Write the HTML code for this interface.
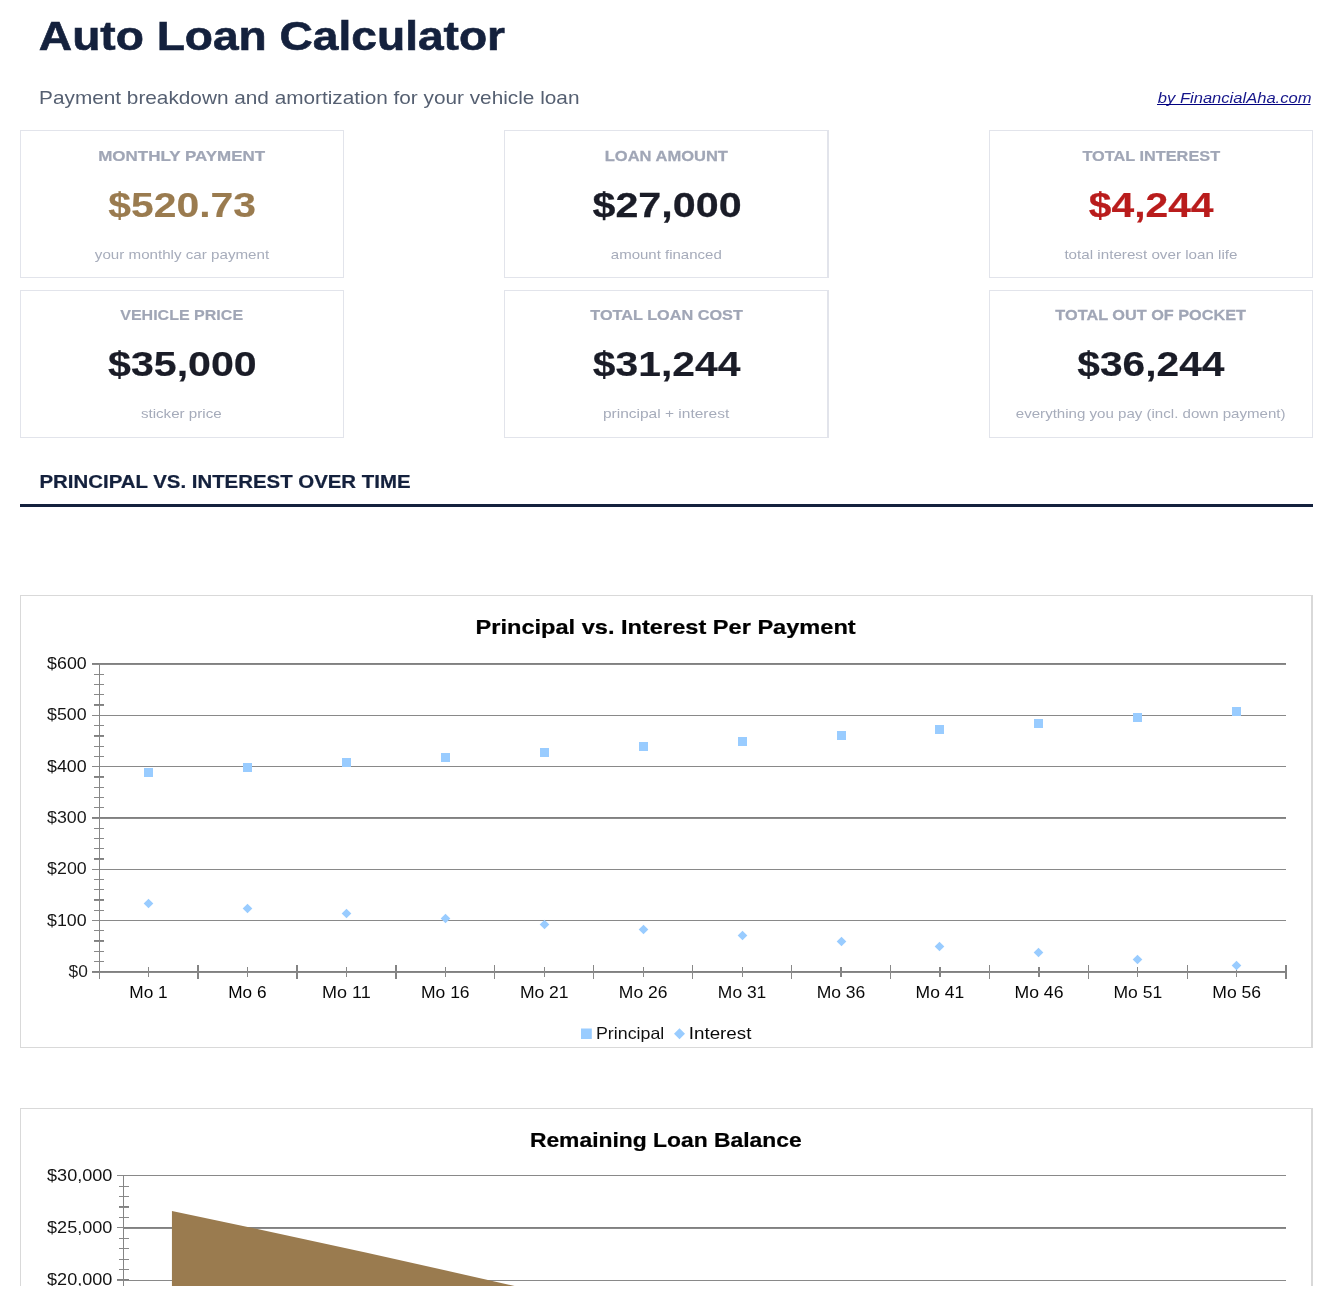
<!DOCTYPE html>
<html><head><meta charset="utf-8"><title>Auto Loan Calculator</title>
<style>
html,body{margin:0;padding:0;background:#fff;}
body{width:1333px;height:1306px;overflow:hidden;}
#clip{position:relative;width:1333px;height:1286px;overflow:hidden;}
svg{display:block;font-family:"Liberation Sans",sans-serif;will-change:transform;}
</style></head><body><div id="clip">
<svg width="1333" height="1306" viewBox="0 0 1333 1306">
<rect x="20" y="130" width="324" height="1" fill="#e2e4eb"/>
<rect x="20" y="277" width="324" height="1" fill="#e2e4eb"/>
<rect x="20" y="130" width="1" height="148" fill="#e2e4eb"/>
<rect x="343" y="130" width="1" height="148" fill="#e2e4eb"/>
<rect x="20" y="290" width="324" height="1" fill="#e2e4eb"/>
<rect x="20" y="437" width="324" height="1" fill="#e2e4eb"/>
<rect x="20" y="290" width="1" height="148" fill="#e2e4eb"/>
<rect x="343" y="290" width="1" height="148" fill="#e2e4eb"/>
<rect x="504" y="130" width="325" height="1" fill="#e2e4eb"/>
<rect x="504" y="277" width="325" height="1" fill="#e2e4eb"/>
<rect x="504" y="130" width="1" height="148" fill="#e2e4eb"/>
<rect x="827" y="130" width="1" height="148" fill="#e2e4eb"/>
<rect x="828" y="130" width="1" height="148" fill="#e2e4eb"/>
<rect x="504" y="290" width="325" height="1" fill="#e2e4eb"/>
<rect x="504" y="437" width="325" height="1" fill="#e2e4eb"/>
<rect x="504" y="290" width="1" height="148" fill="#e2e4eb"/>
<rect x="827" y="290" width="1" height="148" fill="#e2e4eb"/>
<rect x="828" y="290" width="1" height="148" fill="#e2e4eb"/>
<rect x="989" y="130" width="324" height="1" fill="#e2e4eb"/>
<rect x="989" y="277" width="324" height="1" fill="#e2e4eb"/>
<rect x="989" y="130" width="1" height="148" fill="#e2e4eb"/>
<rect x="1312" y="130" width="1" height="148" fill="#e2e4eb"/>
<rect x="989" y="290" width="324" height="1" fill="#e2e4eb"/>
<rect x="989" y="437" width="324" height="1" fill="#e2e4eb"/>
<rect x="989" y="290" width="1" height="148" fill="#e2e4eb"/>
<rect x="1312" y="290" width="1" height="148" fill="#e2e4eb"/>
<rect x="1157" y="104" width="153.5" height="1" fill="#000080"/>
<rect x="20" y="504" width="1293" height="3" fill="#14213d"/>
<rect x="20" y="595" width="1293" height="1" fill="#d9d9d9"/>
<rect x="20" y="1047" width="1293" height="1" fill="#d9d9d9"/>
<rect x="20" y="595" width="1" height="453" fill="#d9d9d9"/>
<rect x="1311" y="595" width="1" height="453" fill="#d9d9d9"/>
<rect x="1312" y="595" width="1" height="453" fill="#d9d9d9"/>
<rect x="20" y="1108" width="1293" height="1" fill="#d9d9d9"/>
<rect x="20" y="1700" width="1293" height="1" fill="#d9d9d9"/>
<rect x="20" y="1108" width="1" height="593" fill="#d9d9d9"/>
<rect x="1311" y="1108" width="1" height="593" fill="#d9d9d9"/>
<rect x="1312" y="1108" width="1" height="593" fill="#d9d9d9"/>
<rect x="92" y="971" width="1194" height="1" fill="#808080"/>
<rect x="92" y="972" width="1194" height="1" fill="#8a8a8a"/>
<rect x="92" y="920" width="1194" height="1" fill="#898989"/>
<rect x="92" y="869" width="1194" height="1" fill="#898989"/>
<rect x="92" y="817" width="1194" height="1" fill="#808080"/>
<rect x="92" y="818" width="1194" height="1" fill="#8a8a8a"/>
<rect x="92" y="766" width="1194" height="1" fill="#898989"/>
<rect x="92" y="715" width="1194" height="1" fill="#898989"/>
<rect x="92" y="663" width="1194" height="1" fill="#808080"/>
<rect x="92" y="664" width="1194" height="1" fill="#8a8a8a"/>
<rect x="99" y="663" width="1" height="316" fill="#868686"/>
<rect x="94" y="961" width="10" height="1" fill="#898989"/>
<rect x="94" y="951" width="10" height="1" fill="#898989"/>
<rect x="94" y="940" width="10" height="1" fill="#808080"/>
<rect x="94" y="941" width="10" height="1" fill="#8a8a8a"/>
<rect x="94" y="930" width="10" height="1" fill="#898989"/>
<rect x="94" y="910" width="10" height="1" fill="#898989"/>
<rect x="94" y="899" width="10" height="1" fill="#808080"/>
<rect x="94" y="900" width="10" height="1" fill="#8a8a8a"/>
<rect x="94" y="889" width="10" height="1" fill="#898989"/>
<rect x="94" y="879" width="10" height="1" fill="#898989"/>
<rect x="94" y="858" width="10" height="1" fill="#808080"/>
<rect x="94" y="859" width="10" height="1" fill="#8a8a8a"/>
<rect x="94" y="848" width="10" height="1" fill="#898989"/>
<rect x="94" y="838" width="10" height="1" fill="#898989"/>
<rect x="94" y="828" width="10" height="1" fill="#898989"/>
<rect x="94" y="807" width="10" height="1" fill="#898989"/>
<rect x="94" y="797" width="10" height="1" fill="#898989"/>
<rect x="94" y="787" width="10" height="1" fill="#898989"/>
<rect x="94" y="776" width="10" height="1" fill="#808080"/>
<rect x="94" y="777" width="10" height="1" fill="#8a8a8a"/>
<rect x="94" y="756" width="10" height="1" fill="#898989"/>
<rect x="94" y="746" width="10" height="1" fill="#898989"/>
<rect x="94" y="735" width="10" height="1" fill="#808080"/>
<rect x="94" y="736" width="10" height="1" fill="#8a8a8a"/>
<rect x="94" y="725" width="10" height="1" fill="#898989"/>
<rect x="94" y="704" width="10" height="1" fill="#808080"/>
<rect x="94" y="705" width="10" height="1" fill="#8a8a8a"/>
<rect x="94" y="694" width="10" height="1" fill="#898989"/>
<rect x="94" y="684" width="10" height="1" fill="#898989"/>
<rect x="94" y="674" width="10" height="1" fill="#898989"/>
<rect x="197" y="965" width="2" height="14" fill="#848484"/>
<rect x="296" y="965" width="2" height="14" fill="#848484"/>
<rect x="395" y="965" width="2" height="14" fill="#848484"/>
<rect x="494" y="965" width="1" height="14" fill="#898989"/>
<rect x="593" y="965" width="1" height="14" fill="#898989"/>
<rect x="692" y="965" width="1" height="14" fill="#898989"/>
<rect x="791" y="965" width="1" height="14" fill="#898989"/>
<rect x="890" y="965" width="1" height="14" fill="#898989"/>
<rect x="989" y="965" width="1" height="14" fill="#898989"/>
<rect x="1088" y="965" width="1" height="14" fill="#898989"/>
<rect x="1187" y="965" width="1" height="14" fill="#898989"/>
<rect x="1285" y="965" width="2" height="14" fill="#848484"/>
<rect x="148" y="967" width="1" height="10" fill="#898989"/>
<rect x="247" y="967" width="1" height="10" fill="#898989"/>
<rect x="346" y="967" width="1" height="10" fill="#898989"/>
<rect x="445" y="967" width="1" height="10" fill="#898989"/>
<rect x="544" y="967" width="1" height="10" fill="#898989"/>
<rect x="643" y="967" width="1" height="10" fill="#898989"/>
<rect x="742" y="967" width="1" height="10" fill="#898989"/>
<rect x="840" y="967" width="2" height="10" fill="#848484"/>
<rect x="939" y="967" width="2" height="10" fill="#848484"/>
<rect x="1038" y="967" width="2" height="10" fill="#848484"/>
<rect x="1137" y="967" width="1" height="10" fill="#898989"/>
<rect x="1236" y="967" width="1" height="10" fill="#898989"/>
<rect x="144" y="768" width="9" height="9" fill="#99ccff"/>
<path d="M148.5 898.7L153.3 903.5L148.5 908.3L143.7 903.5Z" fill="#99ccff"/>
<rect x="243" y="763" width="9" height="9" fill="#99ccff"/>
<path d="M247.5 903.7L252.3 908.5L247.5 913.3L242.7 908.5Z" fill="#99ccff"/>
<rect x="342" y="758" width="9" height="9" fill="#99ccff"/>
<path d="M346.5 908.7L351.3 913.5L346.5 918.3L341.7 913.5Z" fill="#99ccff"/>
<rect x="441" y="753" width="9" height="9" fill="#99ccff"/>
<path d="M445.5 913.7L450.3 918.5L445.5 923.3L440.7 918.5Z" fill="#99ccff"/>
<rect x="540" y="748" width="9" height="9" fill="#99ccff"/>
<path d="M544.5 919.7L549.3 924.5L544.5 929.3L539.7 924.5Z" fill="#99ccff"/>
<rect x="639" y="742" width="9" height="9" fill="#99ccff"/>
<path d="M643.5 924.7L648.3 929.5L643.5 934.3L638.7 929.5Z" fill="#99ccff"/>
<rect x="738" y="737" width="9" height="9" fill="#99ccff"/>
<path d="M742.5 930.7L747.3 935.5L742.5 940.3L737.7 935.5Z" fill="#99ccff"/>
<rect x="837" y="731" width="9" height="9" fill="#99ccff"/>
<path d="M841.5 936.7L846.3 941.5L841.5 946.3L836.7 941.5Z" fill="#99ccff"/>
<rect x="935" y="725" width="9" height="9" fill="#99ccff"/>
<path d="M939.5 941.7L944.3 946.5L939.5 951.3L934.7 946.5Z" fill="#99ccff"/>
<rect x="1034" y="719" width="9" height="9" fill="#99ccff"/>
<path d="M1038.5 947.7L1043.3 952.5L1038.5 957.3L1033.7 952.5Z" fill="#99ccff"/>
<rect x="1133" y="713" width="9" height="9" fill="#99ccff"/>
<path d="M1137.5 954.7L1142.3 959.5L1137.5 964.3L1132.7 959.5Z" fill="#99ccff"/>
<rect x="1232" y="707" width="9" height="9" fill="#99ccff"/>
<path d="M1236.5 960.7L1241.3 965.5L1236.5 970.3L1231.7 965.5Z" fill="#99ccff"/>
<rect x="581" y="1028.5" width="10.8" height="10.5" fill="#99ccff"/>
<path d="M679.5 1028.2L685 1033.7L679.5 1039.3L674 1033.7Z" fill="#99ccff"/>
<rect x="123" y="1175" width="1163" height="1" fill="#898989"/>
<rect x="123" y="1227" width="1163" height="1" fill="#808080"/>
<rect x="123" y="1228" width="1163" height="1" fill="#8a8a8a"/>
<rect x="123" y="1280" width="1163" height="1" fill="#898989"/>
<rect x="117" y="1175" width="12" height="1" fill="#898989"/>
<rect x="117" y="1227" width="6" height="1" fill="#898989"/>
<rect x="117" y="1279" width="12" height="1" fill="#808080"/>
<rect x="117" y="1280" width="12" height="1" fill="#8a8a8a"/>
<rect x="119" y="1186" width="10" height="1" fill="#898989"/>
<rect x="119" y="1196" width="10" height="1" fill="#898989"/>
<rect x="119" y="1206" width="10" height="1" fill="#808080"/>
<rect x="119" y="1207" width="10" height="1" fill="#8a8a8a"/>
<rect x="119" y="1217" width="10" height="1" fill="#898989"/>
<rect x="119" y="1238" width="10" height="1" fill="#898989"/>
<rect x="119" y="1248" width="10" height="1" fill="#898989"/>
<rect x="119" y="1259" width="10" height="1" fill="#898989"/>
<rect x="119" y="1269" width="10" height="1" fill="#898989"/>
<rect x="123" y="1175" width="1" height="200" fill="#868686"/>
<polygon points="171.93,1210.90 268.77,1231.48 365.62,1252.56 462.48,1274.17 559.33,1296.31 656.18,1319.01 753.03,1342.26 849.88,1366.10 946.73,1390.52 1043.58,1415.55 1140.43,1441.21 1237.28,1467.50 1237.28,1500 171.93,1500" fill="#9a7b4f"/>
<text x="38.85" y="50.00" font-size="41" font-weight="bold" fill="#14213d" stroke="#14213d" stroke-width="0.614" textLength="466.21" lengthAdjust="spacingAndGlyphs">Auto Loan Calculator</text>
<text x="39.10" y="103.60" font-size="18.5" fill="#4a5568" opacity="0.9358" textLength="540.34" lengthAdjust="spacingAndGlyphs">Payment breakdown and amortization for your vehicle loan</text>
<text x="1157.80" y="102.60" font-size="14.8" font-style="italic" fill="#000080" opacity="0.9182" textLength="153.71" lengthAdjust="spacingAndGlyphs">by FinancialAha.com</text>
<text x="98.18" y="160.85" font-size="15.3" font-weight="bold" fill="#a0a6b6" stroke="#a0a6b6" stroke-width="0.236" textLength="166.91" lengthAdjust="spacingAndGlyphs">MONTHLY PAYMENT</text>
<text x="108.15" y="217.30" font-size="34.6" font-weight="bold" fill="#9a7b4f" stroke="#9a7b4f" stroke-width="0.147" textLength="147.87" lengthAdjust="spacingAndGlyphs">$520.73</text>
<text x="94.83" y="258.80" font-size="13.4" fill="#a0a6b6" opacity="0.9209" textLength="174.31" lengthAdjust="spacingAndGlyphs">your monthly car payment</text>
<text x="604.75" y="160.85" font-size="15.3" font-weight="bold" fill="#a0a6b6" stroke="#a0a6b6" stroke-width="0.27" textLength="123.20" lengthAdjust="spacingAndGlyphs">LOAN AMOUNT</text>
<text x="592.49" y="217.30" font-size="34.6" font-weight="bold" fill="#1a1c27" stroke="#1a1c27" stroke-width="0.263" textLength="149.10" lengthAdjust="spacingAndGlyphs">$27,000</text>
<text x="610.81" y="258.80" font-size="13.4" fill="#a0a6b6" opacity="0.9357" textLength="110.97" lengthAdjust="spacingAndGlyphs">amount financed</text>
<text x="1082.44" y="160.85" font-size="15.3" font-weight="bold" fill="#a0a6b6" stroke="#a0a6b6" stroke-width="0.231" textLength="137.66" lengthAdjust="spacingAndGlyphs">TOTAL INTEREST</text>
<text x="1088.81" y="217.30" font-size="34.6" font-weight="bold" fill="#b91c1c" stroke="#b91c1c" stroke-width="0.243" textLength="124.76" lengthAdjust="spacingAndGlyphs">$4,244</text>
<text x="1064.40" y="258.80" font-size="13.4" fill="#a0a6b6" opacity="0.9431" textLength="173.15" lengthAdjust="spacingAndGlyphs">total interest over loan life</text>
<text x="120.21" y="319.85" font-size="15.3" font-weight="bold" fill="#a0a6b6" stroke="#a0a6b6" stroke-width="0.165" textLength="122.88" lengthAdjust="spacingAndGlyphs">VEHICLE PRICE</text>
<text x="108.05" y="376.30" font-size="34.6" font-weight="bold" fill="#1a1c27" stroke="#1a1c27" stroke-width="0.195" textLength="148.64" lengthAdjust="spacingAndGlyphs">$35,000</text>
<text x="140.90" y="417.80" font-size="13.4" fill="#a0a6b6" opacity="0.94" textLength="80.79" lengthAdjust="spacingAndGlyphs">sticker price</text>
<text x="590.32" y="319.85" font-size="15.3" font-weight="bold" fill="#a0a6b6" stroke="#a0a6b6" stroke-width="0.242" textLength="152.50" lengthAdjust="spacingAndGlyphs">TOTAL LOAN COST</text>
<text x="592.75" y="376.30" font-size="34.6" font-weight="bold" fill="#1a1c27" stroke="#1a1c27" stroke-width="0.17" textLength="147.61" lengthAdjust="spacingAndGlyphs">$31,244</text>
<text x="602.91" y="417.80" font-size="13.4" fill="#a0a6b6" opacity="0.9296" textLength="126.32" lengthAdjust="spacingAndGlyphs">principal + interest</text>
<text x="1055.38" y="319.85" font-size="15.3" font-weight="bold" fill="#a0a6b6" stroke="#a0a6b6" stroke-width="0.253" textLength="190.68" lengthAdjust="spacingAndGlyphs">TOTAL OUT OF POCKET</text>
<text x="1077.26" y="376.30" font-size="34.6" font-weight="bold" fill="#1a1c27" stroke="#1a1c27" stroke-width="0.178" textLength="147.26" lengthAdjust="spacingAndGlyphs">$36,244</text>
<text x="1015.82" y="417.80" font-size="13.4" fill="#a0a6b6" opacity="0.9224" textLength="269.75" lengthAdjust="spacingAndGlyphs">everything you pay (incl. down payment)</text>
<text x="39.51" y="487.90" font-size="18.9" font-weight="bold" fill="#14213d" stroke="#14213d" stroke-width="0.239" textLength="370.99" lengthAdjust="spacingAndGlyphs">PRINCIPAL VS. INTEREST OVER TIME</text>
<text x="475.52" y="634.00" font-size="21" font-weight="bold" fill="#000" stroke="#000" stroke-width="0.237" textLength="380.20" lengthAdjust="spacingAndGlyphs">Principal vs. Interest Per Payment</text>
<text x="529.92" y="1147.00" font-size="21" font-weight="bold" fill="#000" stroke="#000" stroke-width="0.234" textLength="271.77" lengthAdjust="spacingAndGlyphs">Remaining Loan Balance</text>
<text x="68.52" y="977.00" font-size="16.0" fill="#000" opacity="0.8832" textLength="19.25" lengthAdjust="spacingAndGlyphs">$0</text>
<text x="47.08" y="925.67" font-size="16.0" fill="#000" opacity="0.9212" textLength="39.56" lengthAdjust="spacingAndGlyphs">$100</text>
<text x="47.14" y="874.33" font-size="16.0" fill="#000" opacity="0.9084" textLength="39.51" lengthAdjust="spacingAndGlyphs">$200</text>
<text x="47.09" y="823.00" font-size="16.0" fill="#000" opacity="0.9039" textLength="39.55" lengthAdjust="spacingAndGlyphs">$300</text>
<text x="47.08" y="771.67" font-size="16.0" fill="#000" opacity="0.9357" textLength="39.56" lengthAdjust="spacingAndGlyphs">$400</text>
<text x="47.08" y="720.33" font-size="16.0" fill="#000" opacity="0.9132" textLength="39.56" lengthAdjust="spacingAndGlyphs">$500</text>
<text x="47.13" y="669.00" font-size="16.0" fill="#000" opacity="0.9335" textLength="39.52" lengthAdjust="spacingAndGlyphs">$600</text>
<text x="129.28" y="997.80" font-size="16.6" fill="#000" opacity="0.9749" textLength="38.35" lengthAdjust="spacingAndGlyphs">Mo 1</text>
<text x="228.21" y="997.80" font-size="16.6" fill="#000" opacity="0.9987" textLength="38.24" lengthAdjust="spacingAndGlyphs">Mo 6</text>
<text x="322.05" y="997.80" font-size="16.6" fill="#000" opacity="0.9474" textLength="48.69" lengthAdjust="spacingAndGlyphs">Mo 11</text>
<text x="421.02" y="997.80" font-size="16.6" fill="#000" opacity="0.9685" textLength="48.58" lengthAdjust="spacingAndGlyphs">Mo 16</text>
<text x="519.90" y="997.80" font-size="16.6" fill="#000" opacity="0.955" textLength="48.73" lengthAdjust="spacingAndGlyphs">Mo 21</text>
<text x="618.85" y="997.80" font-size="16.6" fill="#000" opacity="0.9623" textLength="48.57" lengthAdjust="spacingAndGlyphs">Mo 26</text>
<text x="717.88" y="997.80" font-size="16.6" fill="#000" opacity="0.9591" textLength="48.40" lengthAdjust="spacingAndGlyphs">Mo 31</text>
<text x="816.65" y="997.80" font-size="16.6" fill="#000" opacity="0.9631" textLength="48.66" lengthAdjust="spacingAndGlyphs">Mo 36</text>
<text x="915.64" y="997.80" font-size="16.6" fill="#000" opacity="0.9772" textLength="48.53" lengthAdjust="spacingAndGlyphs">Mo 41</text>
<text x="1014.54" y="997.80" font-size="16.6" fill="#000" opacity="0.9758" textLength="48.91" lengthAdjust="spacingAndGlyphs">Mo 46</text>
<text x="1113.44" y="997.80" font-size="16.6" fill="#000" opacity="0.9574" textLength="48.69" lengthAdjust="spacingAndGlyphs">Mo 51</text>
<text x="1212.33" y="997.80" font-size="16.6" fill="#000" opacity="0.9672" textLength="48.77" lengthAdjust="spacingAndGlyphs">Mo 56</text>
<text x="595.98" y="1038.60" font-size="16.5" fill="#000" opacity="0.9332" textLength="68.31" lengthAdjust="spacingAndGlyphs">Principal</text>
<text x="688.78" y="1038.60" font-size="16.5" fill="#000" opacity="0.967" textLength="62.68" lengthAdjust="spacingAndGlyphs">Interest</text>
<text x="47.07" y="1180.70" font-size="16.0" fill="#000" opacity="0.9276" textLength="65.34" lengthAdjust="spacingAndGlyphs">$30,000</text>
<text x="47.07" y="1232.95" font-size="16.0" fill="#000" opacity="0.918" textLength="65.34" lengthAdjust="spacingAndGlyphs">$25,000</text>
<text x="47.07" y="1285.20" font-size="16.0" fill="#000" opacity="0.9274" textLength="65.34" lengthAdjust="spacingAndGlyphs">$20,000</text>
</svg></div></body></html>
